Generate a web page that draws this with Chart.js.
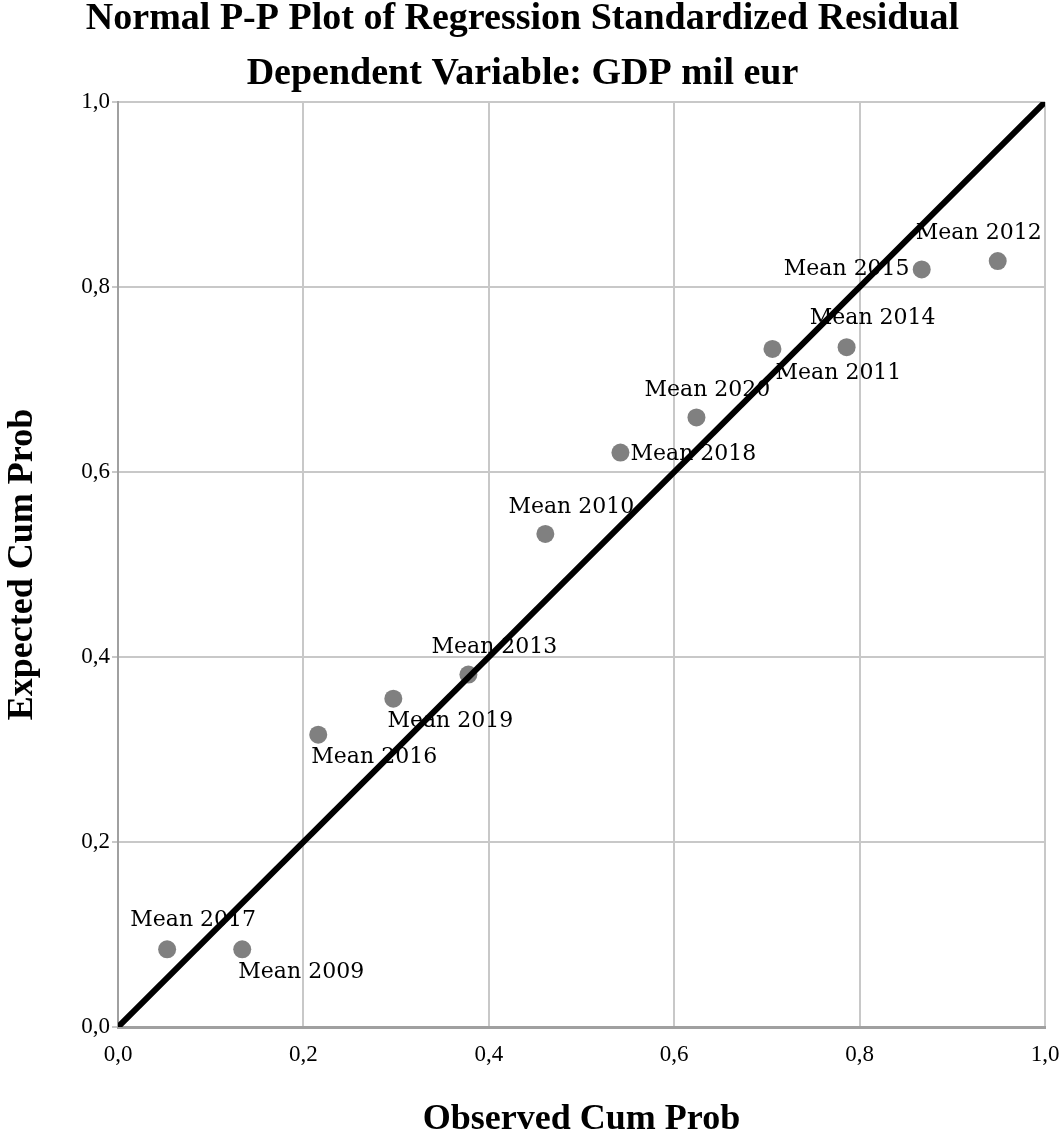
<!DOCTYPE html>
<html>
<head>
<meta charset="utf-8">
<title>Normal P-P Plot</title>
<script src="https://cdn.jsdelivr.net/npm/chart.js@4.4.1/dist/chart.umd.min.js"></script>
<style>
  html, body { margin: 0; padding: 0; background: #fff; }
</style>
</head>
<body>
<canvas id="ppChart" width="1062" height="1138"></canvas>
<script>
// data
const years = [2017, 2009, 2016, 2019, 2013, 2010, 2018, 2020, 2011, 2014, 2015, 2012];
const observedCumProb = [0.053, 0.134, 0.216, 0.297, 0.378, 0.461, 0.542, 0.624, 0.706, 0.786, 0.867, 0.949];
const expectedCumProb = [0.084, 0.084, 0.316, 0.355, 0.381, 0.533, 0.621, 0.659, 0.733, 0.735, 0.819, 0.828];
const diagonalX = [0, 1];
const diagonalY = [0, 1];
const tickValues = [0, 0.2, 0.4, 0.6, 0.8, 1.0];

// where each "Mean yyyy" label sits, relative to its point (px)
const labelOffsets = [
    [26, -29], [59, 23], [56, 23], [57, 23], [26, -27], [26, -27],
    [73, 2], [11, -27], [66, 24], [26, -29], [-75, 0], [-19, -28]
];

const serif = '"Liberation Serif", "Times New Roman", serif';
const gridColor = '#c8c8c8';

function commaTick(v) {
    return Number(v).toFixed(1).replace('.', ',');
}

// labels are drawn right after the points, so the reference line goes over them
const pointLabels = {
    id: 'pointLabels',
    afterDatasetDraw(chart, args) {
        if (args.index !== 1) return;
        const ctx = chart.ctx;
        ctx.save();
        ctx.font = '22px "DejaVu Serif", serif';
        ctx.fillStyle = '#000';
        ctx.textAlign = 'center';
        ctx.textBaseline = 'middle';
        args.meta.data.forEach(function(pt, i) {
            ctx.fillText('Mean ' + years[i], pt.x + labelOffsets[i][0], pt.y + labelOffsets[i][1]);
        });
        ctx.restore();
    }
};

const linePoints = diagonalX.map((x, i) => ({x: x, y: diagonalY[i]}));
const scatterPoints = observedCumProb.map((x, i) => ({x: x, y: expectedCumProb[i]}));

new Chart(document.getElementById('ppChart'), {
    type: 'scatter',
    data: {
        datasets: [
            {
                label: 'diagonal',
                data: linePoints,
                showLine: true,
                borderColor: '#000',
                borderWidth: 6,
                pointRadius: 0,
                order: 0
            },
            {
                label: 'residuals',
                data: scatterPoints,
                backgroundColor: '#808080',
                borderColor: '#808080',
                borderWidth: 0,
                pointRadius: 9,
                order: 1
            }
        ]
    },
    options: {
        responsive: false,
        animation: false,
        layout: { padding: { left: 0, right: 17, top: 0, bottom: 0 } },
        plugins: {
            legend: { display: false },
            tooltip: { enabled: false },
            title: {
                display: true,
                text: 'Normal P-P Plot of Regression Standardized Residual',
                color: '#000',
                font: { family: serif, size: 38, weight: 'bold', lineHeight: 1.0 },
                padding: { top: 0, bottom: 17 }
            },
            subtitle: {
                display: true,
                text: 'Dependent Variable: GDP mil eur',
                color: '#000',
                font: { family: serif, size: 38, weight: 'bold', lineHeight: 1.0 },
                padding: { top: 0, bottom: 9 }
            }
        },
        scales: {
            x: {
                type: 'linear',
                min: 0,
                max: 1,
                afterBuildTicks: s => { s.ticks = tickValues.map(v => ({value: v})); },
                afterFit: s => {
                    s.height = 111;
                    s.paddingLeft = 0;
                    s.paddingRight = 0;
                },
                ticks: {
                    color: '#000',
                    font: { family: serif, size: 23 },
                    padding: 14,
                    maxRotation: 0,
                    callback: commaTick
                },
                grid: { color: gridColor, lineWidth: 2, drawTicks: false },
                border: { color: '#a0a0a0', width: 3 },
                title: {
                    display: true,
                    text: 'Observed Cum Prob',
                    color: '#000',
                    font: { family: serif, size: 36, weight: 'bold', lineHeight: 1.0 },
                    padding: { top: 0, bottom: 0 }
                }
            },
            y: {
                type: 'linear',
                min: 0,
                max: 1,
                afterBuildTicks: s => { s.ticks = tickValues.map(v => ({value: v})); },
                afterFit: s => { s.width = 118; },
                ticks: {
                    color: '#000',
                    font: { family: serif, size: 23 },
                    padding: 2,
                    callback: commaTick
                },
                grid: { color: gridColor, lineWidth: 2, tickLength: 6 },
                border: { color: '#a0a0a0', width: 2 },
                title: {
                    display: true,
                    text: 'Expected Cum Prob',
                    color: '#000',
                    font: { family: serif, size: 36, weight: 'bold', lineHeight: 1.2 },
                    padding: { top: 1, bottom: 0 }
                }
            }
        }
    },
    plugins: [pointLabels]
});
</script>
</body>
</html>
